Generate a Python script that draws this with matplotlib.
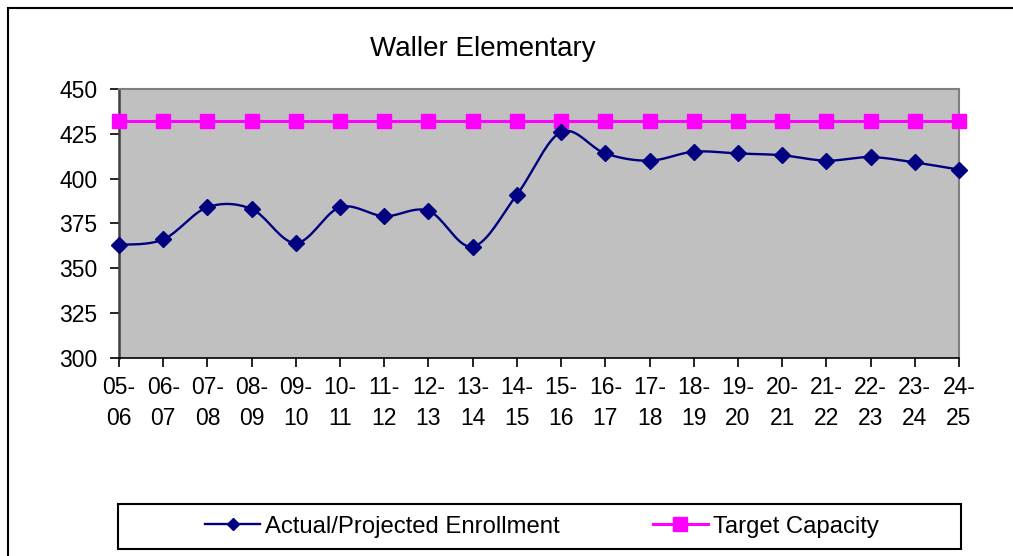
import numpy as np
import matplotlib
matplotlib.use("Agg")
import matplotlib.pyplot as plt
from matplotlib.patches import Rectangle
from matplotlib.lines import Line2D

plt.rcParams['font.family'] = ['Liberation Sans', 'DejaVu Sans']

years = ['05-\n06', '06-\n07', '07-\n08', '08-\n09', '09-\n10', '10-\n11', '11-\n12',
         '12-\n13', '13-\n14', '14-\n15', '15-\n16', '16-\n17', '17-\n18', '18-\n19',
         '19-\n20', '20-\n21', '21-\n22', '22-\n23', '23-\n24', '24-\n25']
enrollment = [363, 366, 384, 383, 364, 384, 379, 382, 362, 391, 426,
              414, 410, 415, 414, 413, 410, 412, 409, 405]
capacity = [432] * 20


def smooth(x, y, n=20):
    # catmull-rom through the points, like excel's smoothed line
    x = np.asarray(x, float)
    y = np.asarray(y, float)
    px = np.concatenate([[x[0]], x, [x[-1]]])
    py = np.concatenate([[y[0]], y, [y[-1]]])
    xs, ys = [], []
    t = np.linspace(0, 1, n, endpoint=False)
    for i in range(1, len(px) - 2):
        for p, out in ((px, xs), (py, ys)):
            p0, p1, p2, p3 = p[i - 1], p[i], p[i + 1], p[i + 2]
            out.extend(0.5 * ((2 * p1) + (-p0 + p2) * t
                              + (2 * p0 - 5 * p1 + 4 * p2 - p3) * t ** 2
                              + (-p0 + 3 * p1 - 3 * p2 + p3) * t ** 3))
    xs.append(x[-1])
    ys.append(y[-1])
    return np.array(xs), np.array(ys)


fig = plt.figure(figsize=(10.13, 5.56), dpi=100)
W, H = 1013, 556
ax = fig.add_axes([119 / W, 1 - 357.7 / H, (959 - 119) / W, (357.7 - 89) / H])
ax.set_facecolor('#c0c0c0')

x = np.arange(len(years))
sx, sy = smooth(x, enrollment)
ax.plot(x, capacity, color='#ff00ff', lw=2.2, marker='s', ms=10.5, zorder=3, clip_on=False)
ax.plot(sx, sy, color='#000080', lw=1.7, zorder=4)
ax.plot(x, enrollment, ls='none', color='#000080', marker='D', ms=8.5, zorder=5, clip_on=False)

ax.set_xlim(0, len(years) - 1)
ax.set_ylim(300, 450)
ax.set_yticks(np.arange(300, 451, 25))
ax.set_xticks(x)
ax.set_xticklabels(years, linespacing=1.4)
ax.tick_params(axis='both', direction='out', length=6.5, width=1.2, labelsize=16.5, color='black')
ax.tick_params(axis='x', pad=7)
ax.tick_params(axis='y', pad=9)
for s in ['top', 'right']:
    ax.spines[s].set_color('#808080')
    ax.spines[s].set_linewidth(1.5)
ax.spines['left'].set_color('#404040')
ax.spines['left'].set_linewidth(1.8)
ax.spines['bottom'].set_color('black')
ax.spines['bottom'].set_linewidth(1.2)

fig.text(483 / W, 1 - 56 / H, 'Waller Elementary', ha='center', va='baseline', fontsize=20)

# outer chart border
fig.patches.append(Rectangle((8 / W, -0.1), 1.2, 1 - 8 / H + 0.1, transform=fig.transFigure,
                             fill=False, ec='black', lw=1.5))

# legend box
fig.patches.append(Rectangle((118 / W, 1 - 549 / H), (961 - 118) / W, 45 / H,
                             transform=fig.transFigure, fill=False, ec='black', lw=1.5))
handles = [Line2D([], [], color='#000080', lw=1.7, marker='D', ms=6.5),
           Line2D([], [], color='#ff00ff', lw=2.2, marker='s', ms=10.5)]
fig.legend(handles, ['Actual/Projected Enrollment', 'Target Capacity'],
           loc='center', bbox_to_anchor=(542 / W, 1 - 526.5 / H),
           ncol=2, fontsize=17.2, frameon=False,
           handlelength=2.3, handletextpad=0.2, columnspacing=3.9, borderaxespad=0)

fig.savefig('out.png', dpi=100, facecolor='white')
